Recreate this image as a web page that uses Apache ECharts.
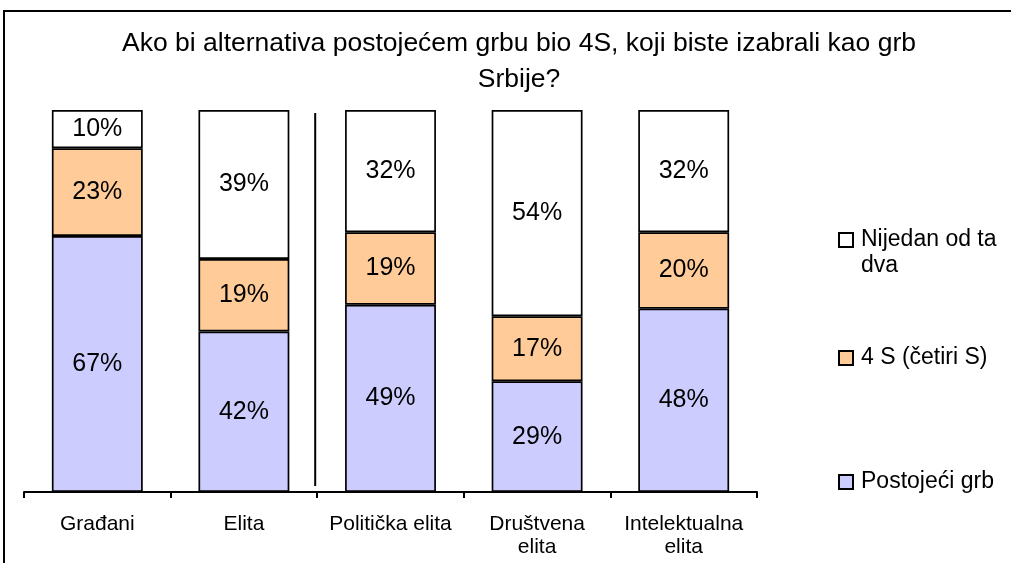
<!DOCTYPE html>
<html>
<head>
<meta charset="utf-8">
<style>
  html, body { margin: 0; padding: 0; background: #fff; }
  #chart { width: 1011px; height: 563px; }
</style>
<script src="https://cdn.jsdelivr.net/npm/echarts@6/dist/echarts.min.js"></script>
</head>
<body>
<div id="chart"></div>
<script>
// Survey groups and answer shares (%)
const categories = ['Građani', 'Elita', 'Politička elita', 'Društvena\nelita', 'Intelektualna\nelita'];
const postojeciGrb = [67, 42, 49, 29, 48];
const cetiriS = [23, 19, 19, 17, 20];
const nijedan = [10, 39, 32, 54, 32];

const seriesNames = ['Postojeći grb', '4 S (četiri S)', 'Nijedan od ta dva'];
const seriesColors = ['#ccccff', '#ffcc99', '#ffffff'];

const FONT = 'Liberation Sans, Arial, Helvetica, sans-serif';

const chart = echarts.init(document.getElementById('chart'), null, { renderer: 'canvas' });

function barSeries(name, data, color) {
  return {
    name: name,
    type: 'bar',
    stack: 'total',
    data: data,
    barCategoryGap: '38%',
    itemStyle: { color: color, borderColor: '#000', borderWidth: 1.7 },
    label: {
      show: true,
      position: 'inside',
      formatter: p => p.value + '%',
      color: '#000',
      fontSize: 25,
      fontFamily: FONT
    },
    emphasis: { disabled: true },
    animation: false
  };
}

// One legend block per series so each entry sits at its own height.
// The long name wraps; an empty leading line balances the wrapped line so
// the marker stays level with the first line of text.
function legendItem(name, top) {
  return {
    data: [name],
    orient: 'vertical',
    left: 833,
    top: top,
    icon: 'rect',
    itemWidth: 14,
    itemHeight: 14,
    itemGap: 0,
    itemStyle: { borderColor: '#000', borderWidth: 2 },
    formatter: n => n === 'Nijedan od ta dva' ? '\nNijedan od ta\ndva' : n,
    textStyle: {
      color: '#000', fontSize: 23, fontFamily: FONT, lineHeight: 26,
      padding: [0, 0, 0, 3]
    },
    selectedMode: false
  };
}

chart.setOption({
  animation: false,
  title: {
    text: 'Ako bi alternativa postojećem grbu bio 4S, koji biste izabrali kao grb\nSrbije?',
    left: 514,
    top: 21,
    textAlign: 'center',
    textStyle: { color: '#000', fontSize: 26.5, fontWeight: 'normal', fontFamily: FONT, lineHeight: 36 }
  },
  legend: [
    legendItem('Nijedan od ta dva', 196),
    legendItem('4 S (četiri S)', 340),
    legendItem('Postojeći grb', 464)
  ],
  grid: { left: 24, right: 254, top: 110, bottom: 71, containLabel: false },
  xAxis: {
    type: 'category',
    data: categories,
    axisLine: { lineStyle: { color: '#000', width: 2 } },
    axisTick: { show: true, length: 6, lineStyle: { color: '#000', width: 2 } },
    axisLabel: { color: '#000', fontSize: 21, fontFamily: FONT, margin: 21, lineHeight: 23, interval: 0 }
  },
  yAxis: {
    type: 'value',
    min: 0,
    max: 100,
    show: false
  },
  series: [
    barSeries(seriesNames[0], postojeciGrb, seriesColors[0]),
    barSeries(seriesNames[1], cetiriS, seriesColors[1]),
    barSeries(seriesNames[2], nijedan, seriesColors[2])
  ]
});

// Outer frame and the separator between the first two groups and the sub-elites
function drawDecorations() {
  const a = chart.convertToPixel({ xAxisIndex: 0 }, categories[1]);
  const b = chart.convertToPixel({ xAxisIndex: 0 }, categories[2]);
  const x = (a + b) / 2 - 2;
  const yTop = chart.convertToPixel({ yAxisIndex: 0 }, 99.2);
  const yBot = chart.convertToPixel({ yAxisIndex: 0 }, 1.6);
  chart.setOption({
    graphic: [
      {
        type: 'rect',
        shape: { x: 4, y: 11, width: 1020, height: 570 },
        style: { fill: 'none', stroke: '#000', lineWidth: 2 },
        silent: true
      },
      {
        type: 'line',
        shape: { x1: x, y1: yTop, x2: x, y2: yBot },
        style: { stroke: '#000', lineWidth: 2 },
        silent: true
      }
    ]
  });
}
drawDecorations();
</script>
</body>
</html>
